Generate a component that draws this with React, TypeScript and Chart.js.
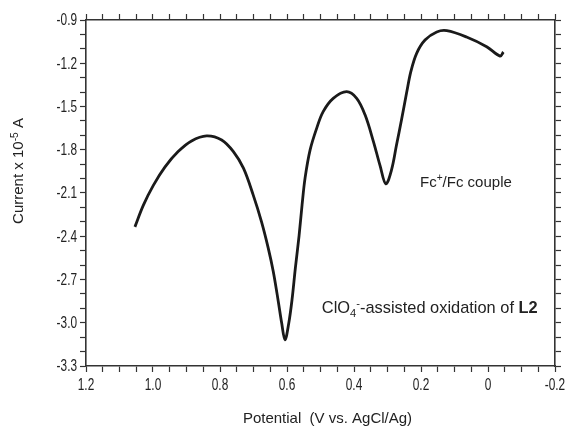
import React, { useEffect, useRef } from 'react';
import { Chart, registerables } from 'chart.js';

Chart.register(...registerables);

// Potential (V vs. AgCl/Ag)
const potential = [
  1.054, 1.029, 0.999, 0.964, 0.925, 0.885, 0.840, 0.795, 0.760, 0.730,
  0.701, 0.676, 0.656, 0.641, 0.626, 0.616, 0.606, 0.595, 0.585, 0.575,
  0.564, 0.555, 0.546, 0.531, 0.511, 0.492, 0.462, 0.422, 0.392, 0.367,
  0.342, 0.322, 0.305, 0.288, 0.273, 0.258, 0.243, 0.230, 0.213, 0.188,
  0.153, 0.123, 0.064, 0.004, -0.036, -0.046,
];
// Current x 10^-5 A
const current = [
  -2.335, -2.186, -2.047, -1.919, -1.813, -1.739, -1.704, -1.732, -1.813, -1.928,
  -2.113, -2.300, -2.482, -2.644, -2.852, -3.000, -3.118, -3.007, -2.840, -2.619,
  -2.397, -2.182, -1.995, -1.801, -1.648, -1.536, -1.444, -1.397, -1.443, -1.558,
  -1.743, -1.912, -2.037, -1.940, -1.766, -1.590, -1.405, -1.255, -1.131, -1.039,
  -0.983, -0.974, -1.018, -1.085, -1.150, -1.122,
];

const xMin = -0.2;
const xMax = 1.2;
const xStep = 0.05;
const yMin = -3.3;
const yMax = -0.9;
const yStep = 0.1;

const xTickValues = [1.2, 1.0, 0.8, 0.6, 0.4, 0.2, 0, -0.2];
const xTickLabels = ['1.2', '1.0', '0.8', '0.6', '0.4', '0.2', '0', '-0.2'];
const yTickValues = [-0.9, -1.2, -1.5, -1.8, -2.1, -2.4, -2.7, -3.0, -3.3];
const yTickLabels = ['-0.9', '-1.2', '-1.5', '-1.8', '-2.1', '-2.4', '-2.7', '-3.0', '-3.3'];

const annoFc = { v: 0.203, i: -2.055 };
const annoClO4 = { v: 0.496, i: -2.933 };

type Run = { t: string; k?: 'sup' | 'sub' | 'bold' };

const SANS = '"Liberation Sans", Arial, sans-serif';
const TEXT = '#222';
const AXIS = '#333';

function fontFor(r: Run, size: number) {
  const s = r.k === 'sup' || r.k === 'sub' ? size * 0.68 : size;
  return `${r.k === 'bold' ? 'bold ' : ''}${s}px ${SANS}`;
}

function runsWidth(ctx: CanvasRenderingContext2D, runs: Run[], size: number) {
  let w = 0;
  for (const r of runs) {
    ctx.font = fontFor(r, size);
    w += ctx.measureText(r.t).width;
  }
  return w;
}

function drawRuns(ctx: CanvasRenderingContext2D, runs: Run[], x: number, y: number, size: number) {
  let cx = x;
  ctx.textAlign = 'left';
  ctx.textBaseline = 'alphabetic';
  for (const r of runs) {
    ctx.font = fontFor(r, size);
    const dy = r.k === 'sup' ? -size * 0.36 : r.k === 'sub' ? size * 0.22 : 0;
    ctx.fillText(r.t, cx, y + dy);
    cx += ctx.measureText(r.t).width;
  }
}

// narrow tick label: horizontally condensed text
function drawNarrow(ctx: CanvasRenderingContext2D, text: string, x: number, y: number,
  align: 'right' | 'center', baseline: CanvasTextBaseline) {
  const sx = 0.74;
  ctx.save();
  ctx.font = `16px ${SANS}`;
  ctx.textAlign = align;
  ctx.textBaseline = baseline;
  ctx.translate(x, y);
  ctx.scale(sx, 1);
  ctx.fillText(text, 0, 0);
  ctx.restore();
}

const textPlugin = {
  id: 'textPlugin',
  afterDraw(chart: any) {
    const { ctx, chartArea, scales } = chart;
    const sx = scales.x;
    const sy = scales.y;
    ctx.save();
    ctx.fillStyle = TEXT;

    // tick labels
    xTickValues.forEach((v, i) => {
      drawNarrow(ctx, xTickLabels[i], sx.getPixelForValue(v), chartArea.bottom + 24, 'center', 'alphabetic');
    });
    yTickValues.forEach((v, i) => {
      drawNarrow(ctx, yTickLabels[i], chartArea.left - 9, sy.getPixelForValue(v) + 1, 'right', 'middle');
    });

    // annotations
    drawRuns(ctx, [{ t: 'Fc' }, { t: '+', k: 'sup' }, { t: '/Fc couple' }],
      sx.getPixelForValue(annoFc.v), sy.getPixelForValue(annoFc.i), 15);
    drawRuns(ctx, [
      { t: 'ClO' }, { t: '4', k: 'sub' }, { t: '-', k: 'sup' },
      { t: '-assisted oxidation of ' }, { t: 'L2', k: 'bold' },
    ], sx.getPixelForValue(annoClO4.v), sy.getPixelForValue(annoClO4.i), 16.4);

    // x title
    const xRuns: Run[] = [{ t: 'Potential  (V vs. AgCl/Ag)' }];
    const xw = runsWidth(ctx, xRuns, 15);
    const xc = (chartArea.left + chartArea.right) / 2 + 7;
    drawRuns(ctx, xRuns, xc - xw / 2, chartArea.bottom + 57, 15);

    // y title
    const yRuns: Run[] = [{ t: 'Current x 10' }, { t: '-5', k: 'sup' }, { t: ' A' }];
    const yw = runsWidth(ctx, yRuns, 15);
    ctx.translate(chartArea.left - 63, chartArea.top + 151);
    ctx.rotate(-Math.PI / 2);
    drawRuns(ctx, yRuns, -yw / 2, 0, 15);
    ctx.restore();
  },
};

function axisCommon() {
  return {
    type: 'linear' as const,
    grid: { drawOnChartArea: false, drawTicks: true, tickLength: 6, color: AXIS, tickWidth: 1.2 },
    border: { display: true, color: AXIS, width: 1.6 },
  };
}

export default function App() {
  const ref = useRef<HTMLCanvasElement>(null);
  useEffect(() => {
    document.body.style.margin = '0';
    const canvas = ref.current!;
    const data = potential.map((v, i) => ({ x: v, y: current[i] }));
    const chart = new Chart(canvas, {
      type: 'scatter',
      data: {
        datasets: [{
          data,
          showLine: true,
          borderColor: '#1a1a1a',
          borderWidth: 2.8,
          pointRadius: 0,
          tension: 0.35,
          fill: false,
        }],
      },
      options: {
        animation: false,
        responsive: false,
        devicePixelRatio: 1,
        layout: { padding: 0 },
        plugins: { legend: { display: false }, tooltip: { enabled: false }, title: { display: false } },
        scales: {
          x: {
            ...axisCommon(),
            position: 'bottom',
            reverse: true,
            min: xMin, max: xMax,
            ticks: { stepSize: xStep, autoSkip: false, maxRotation: 0, minRotation: 0, callback: () => '', padding: 0 },
            afterFit: (s: any) => { s.height = 64; },
          },
          x2: {
            ...axisCommon(),
            axis: 'x',
            position: 'top',
            reverse: true,
            min: xMin, max: xMax,
            ticks: { stepSize: xStep, autoSkip: false, maxRotation: 0, callback: () => '', padding: 0 },
            afterFit: (s: any) => { s.height = 20; },
          },
          y: {
            ...axisCommon(),
            position: 'left',
            min: yMin, max: yMax,
            ticks: { stepSize: yStep, autoSkip: false, callback: () => '', padding: 0 },
            afterFit: (s: any) => { s.width = 86; },
          },
          y2: {
            ...axisCommon(),
            axis: 'y',
            position: 'right',
            min: yMin, max: yMax,
            ticks: { stepSize: yStep, autoSkip: false, callback: () => '', padding: 0 },
            afterFit: (s: any) => { s.width = 11; },
          },
        },
      } as any,
      plugins: [textPlugin],
    });
    return () => chart.destroy();
  }, []);
  return <canvas ref={ref} width={566} height={430} style={{ display: 'block', width: 566, height: 430 }} />;
}
